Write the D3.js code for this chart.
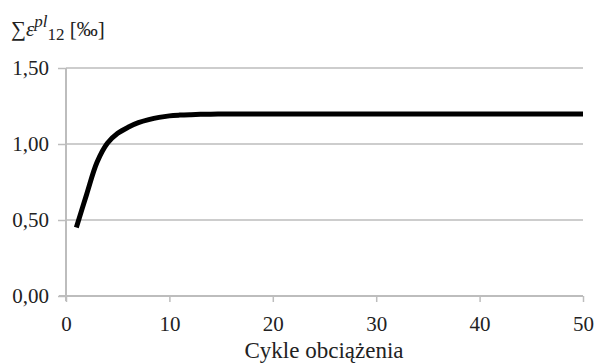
<!DOCTYPE html>
<html><head><meta charset="utf-8">
<script src="https://cdn.jsdelivr.net/npm/d3@7"></script>
<style>body{margin:0;background:#fff}svg{display:block}</style>
</head><body>
<script>
const cycles = d3.range(1, 51);
const strain = [0.45,0.67,0.88,1.005,1.07,1.11,1.14,1.16,1.175,1.185,
  1.19,1.193,1.195,1.196,1.197,1.197,1.197,1.197,1.197,1.197,
  1.197,1.197,1.197,1.197,1.197,1.197,1.197,1.197,1.197,1.197,
  1.197,1.197,1.197,1.197,1.197,1.197,1.197,1.197,1.197,1.197,
  1.197,1.197,1.197,1.197,1.197,1.197,1.197,1.197,1.197,1.197];
const xTicks = [0,10,20,30,40,50];
const yTicks = [0,0.5,1,1.5];
const xTitle = "Cykle obciążenia";

const FONT = "Liberation Serif";
const W=595,H=364;
const svg=d3.select("body").append("svg").attr("width",W).attr("height",H);
const x=d3.scaleLinear().domain([0,50]).range([66,583]);
const y=d3.scaleLinear().domain([0,1.5]).range([296,68]);
const fmt=d=>d3.format(".2f")(d).replace(".",",");
const grid="#bdbdbd";

// horizontal gridlines
svg.append("g").selectAll("line").data(yTicks.filter(d=>d>0)).join("line")
  .attr("x1",x(0)).attr("x2",x(50)).attr("y1",d=>y(d)).attr("y2",d=>y(d))
  .attr("stroke",grid).attr("stroke-width",1.5);

// y axis
const ya=svg.append("g").attr("transform",`translate(${x(0)},0)`)
  .call(d3.axisLeft(y).tickValues(yTicks).tickFormat(fmt).tickSize(8).tickPadding(9));
ya.select(".domain").attr("stroke",grid).attr("stroke-width",2).attr("d",`M0,${y(1.5)}V${y(0)+5}`);
ya.selectAll(".tick line").attr("stroke",grid).attr("stroke-width",1.5);
ya.selectAll(".tick text").attr("font-size",21).attr("fill","#222").attr("font-family",FONT);

// x axis
const xa=svg.append("g").attr("transform",`translate(0,${y(0)})`)
  .call(d3.axisBottom(x).tickValues(xTicks).tickSize(6).tickPadding(14));
xa.select(".domain").attr("stroke",grid).attr("stroke-width",2).attr("d",`M${x(0)-7},0H${x(50)}`);
xa.selectAll(".tick line").attr("stroke",grid).attr("stroke-width",1.5);
xa.selectAll(".tick text").attr("font-size",21).attr("fill","#222").attr("font-family",FONT);

// curve
svg.append("path").datum(cycles.map((c,i)=>[c,strain[i]]))
  .attr("fill","none").attr("stroke","#000").attr("stroke-width",5)
  .attr("d",d3.line().x(d=>x(d[0])).y(d=>y(d[1])).curve(d3.curveCatmullRom));

// x title
svg.append("text").attr("x",324).attr("y",358).attr("text-anchor","middle")
  .attr("font-size",23).attr("font-family",FONT).attr("fill","#222").text(xTitle);

// y title
const t=svg.append("text").attr("x",11).attr("y",36)
  .attr("font-size",21).attr("font-family",FONT).attr("fill","#222");
t.append("tspan").text("∑");
t.append("tspan").attr("font-style","italic").text("ε");
t.append("tspan").attr("font-style","italic").attr("font-size",17).attr("dy",-9).text("pl");
t.append("tspan").attr("font-size",17).attr("dy",13).text("12");
t.append("tspan").attr("dy",-4).text(" [‰]");
</script>
</body></html>
